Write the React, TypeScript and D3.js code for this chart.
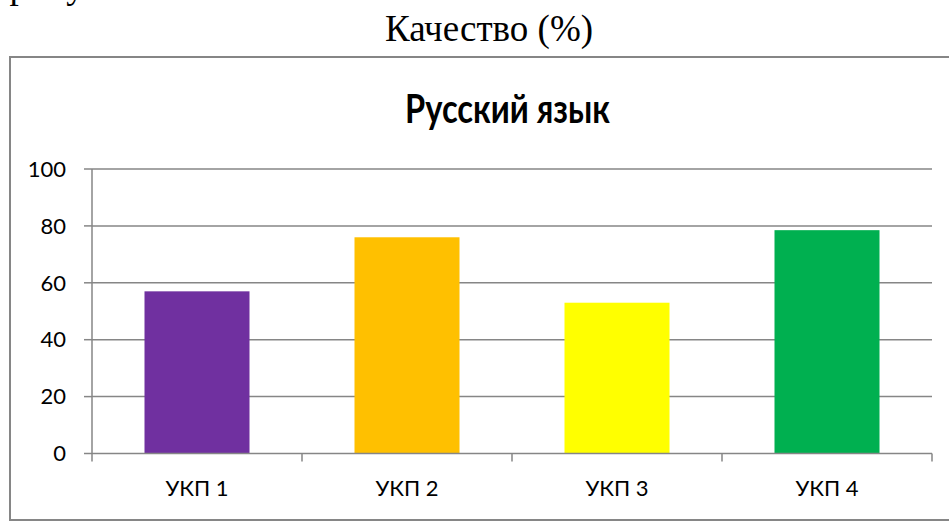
import React from "react";
import * as d3 from "d3";

const categories = ["УКП 1", "УКП 2", "УКП 3", "УКП 4"];
const values = [57, 76, 53, 78.5];
const colors = ["#7030A0", "#FFC000", "#FFFF00", "#00B050"];
const yTicks = [0, 20, 40, 60, 80, 100];
const chartTitle = "Русский язык";
const headerText = "Качество (%)";
const cutText = "( рону";

const W = 949;
const H = 523;
const plot = { left: 92, right: 932, top: 169, bottom: 453.5 };

export default function App() {
  const x = d3.scaleBand<string>().domain(categories).range([plot.left, plot.right]).padding(0);
  const y = d3.scaleLinear().domain([0, 100]).range([plot.bottom, plot.top]);
  const barW = x.bandwidth() * 0.5;
  const axisColor = "#868686";
  const labelFont = "Lato, 'Open Sans', sans-serif";

  return (
    <svg width={W} height={H} style={{ position: "absolute", left: 0, top: 0, background: "#fff" }}>
      <text x={-12} y={-2} fontFamily="'Liberation Serif', 'Times New Roman', serif" fontSize={37} fill="#000">
        {cutText}
      </text>
      <text x={489} y={41} textAnchor="middle" fontFamily="'Liberation Serif', 'Times New Roman', serif" fontSize={37} fill="#000">
        {headerText}
      </text>
      <rect x={10} y={57} width={W + 10} height={463} fill="#fff" stroke={axisColor} strokeWidth={2} />
      <text
        x={405}
        y={123}
        textLength={205}
        lengthAdjust="spacingAndGlyphs"
        fontFamily={labelFont}
        fontWeight="bold"
        fontSize={41}
        fill="#000"
      >
        {chartTitle}
      </text>
      {yTicks.map((t) => (
        <g key={t}>
          {t > 0 && (
            <line x1={plot.left} x2={plot.right} y1={y(t)} y2={y(t)} stroke={axisColor} strokeWidth={1.5} />
          )}
          <line x1={plot.left - 8} x2={plot.left} y1={y(t)} y2={y(t)} stroke={axisColor} strokeWidth={1.5} />
          <text x={66} y={y(t)} dy="0.35em" textAnchor="end" fontFamily={labelFont} fontSize={22} fill="#000">
            {t}
          </text>
        </g>
      ))}
      {categories.map((c, i) => (
        <rect
          key={c}
          x={(x(c) as number) + (x.bandwidth() - barW) / 2}
          y={y(values[i])}
          width={barW}
          height={y(0) - y(values[i])}
          fill={colors[i]}
        />
      ))}
      <line x1={plot.left} x2={plot.left} y1={plot.top} y2={plot.bottom} stroke={axisColor} strokeWidth={1.5} />
      <line x1={plot.left} x2={plot.right} y1={plot.bottom} y2={plot.bottom} stroke={axisColor} strokeWidth={1.5} />
      {[...categories.map((c) => x(c) as number), plot.right].map((tx, i) => (
        <line key={i} x1={tx} x2={tx} y1={plot.bottom} y2={plot.bottom + 8} stroke={axisColor} strokeWidth={1.5} />
      ))}
      {categories.map((c) => (
        <text
          key={c}
          x={(x(c) as number) + x.bandwidth() / 2}
          y={496}
          textAnchor="middle"
          fontFamily={labelFont}
          fontSize={22}
          fill="#000"
        >
          {c}
        </text>
      ))}
    </svg>
  );
}
